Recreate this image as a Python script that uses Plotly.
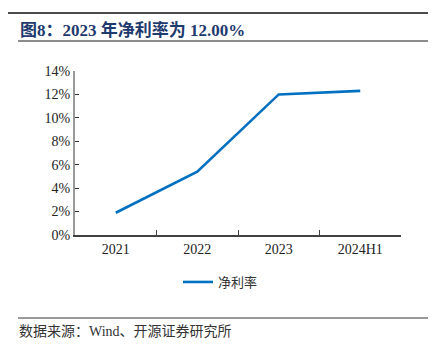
import plotly.graph_objects as go

categories = ["2021", "2022", "2023", "2024H1"]
net_margin = [1.9, 5.4, 12.0, 12.3]
y_ticks = [0, 2, 4, 6, 8, 10, 12, 14]
y_tick_labels = [f"{v}%" for v in y_ticks]

# page has an 8px body margin; work in page coordinates and shift
OFF = 8
W, H = 436 - OFF, 355 - OFF
L, T = 75 - OFF, 71 - OFF
R = W - (401 - OFF)
B = H - (235 - OFF)
pw = W - L - R
ph = H - T - B

def px(x):
    return (x - OFF - L) / pw

def py(y):
    return (H - B - (y - OFF)) / ph

serif = "Liberation Serif, Times New Roman, Noto Sans CJK SC, serif"

fig = go.Figure()
fig.add_trace(go.Scatter(
    x=categories, y=net_margin, mode="lines", name="净利率",
    line=dict(color="#0070C0", width=2.6),
))

fig.update_layout(
    width=W, height=H,
    margin=dict(l=L, r=R, t=T, b=B),
    paper_bgcolor="white", plot_bgcolor="white",
    showlegend=True,
    legend=dict(
        orientation="h", x=px(178), y=py(282), xanchor="left", yanchor="middle",
        font=dict(family="Noto Sans CJK SC", size=13, color="#333333"),
        bgcolor="rgba(0,0,0,0)",
    ),
    xaxis=dict(
        type="category", tickson="boundaries", ticks="inside", ticklen=5,
        tickcolor="#404040", showline=True, linecolor="#404040", linewidth=1.5,
        showgrid=False, zeroline=False,
        tickfont=dict(family=serif, size=14, color="#222222"),
        range=[-0.5, 3.5],
    ),
    yaxis=dict(
        range=[0, 14], tickvals=y_ticks, ticktext=y_tick_labels,
        ticks="inside", ticklen=4, tickcolor="#333333",
        showline=True, linecolor="#999999", linewidth=2,
        showgrid=False, zeroline=False,
        tickfont=dict(family=serif, size=14, color="#222222"),
    ),
)

shapes = [
    dict(type="line", xref="paper", yref="paper", x0=px(0), x1=px(428), y0=py(13), y1=py(13),
         line=dict(color="#111111", width=1.5)),
    dict(type="line", xref="paper", yref="paper", x0=px(18), x1=px(430), y0=py(41), y1=py(41),
         line=dict(color="#8c8c8c", width=2)),
    dict(type="line", xref="paper", yref="paper", x0=px(18), x1=px(430), y0=py(318), y1=py(318),
         line=dict(color="#333333", width=1)),
]
fig.update_layout(shapes=shapes)

fig.add_annotation(
    xref="paper", yref="paper", x=px(18), y=py(30), xanchor="left", yanchor="middle",
    text="<b>图8：2023 年净利率为 12.00%</b>", showarrow=False,
    font=dict(family=serif, size=17, color="#1F3A6E"),
)
fig.add_annotation(
    xref="paper", yref="paper", x=px(17), y=py(331), xanchor="left", yanchor="middle",
    text="数据来源：Wind、开源证券研究所", showarrow=False,
    font=dict(family=serif, size=14, color="#333333"),
)

fig.write_html("out.html")
